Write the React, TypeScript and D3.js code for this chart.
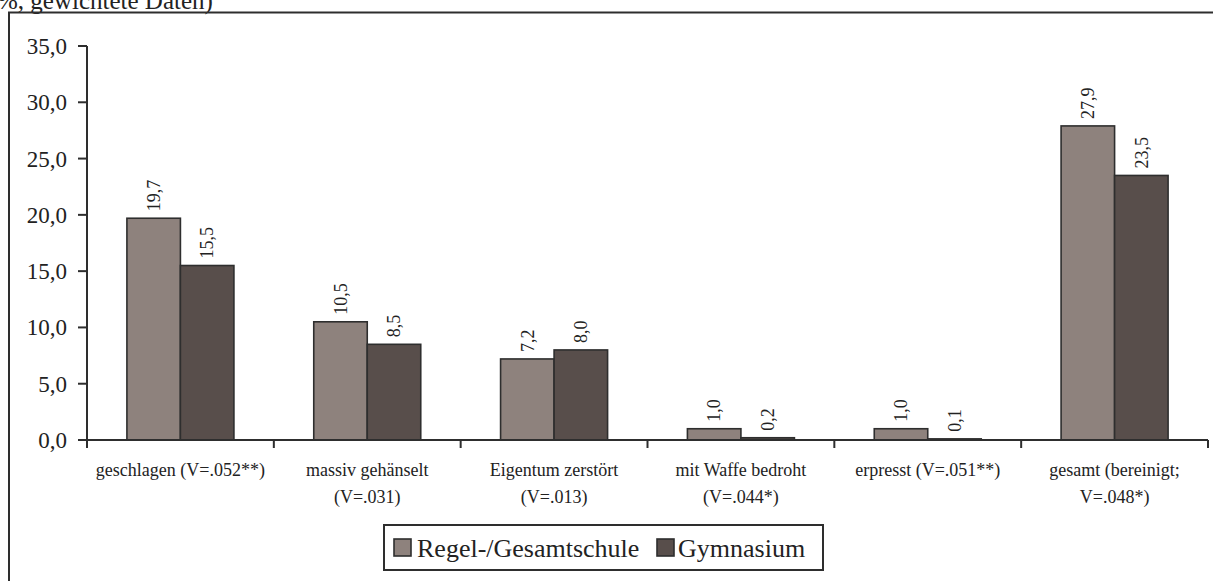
import React from "react";
import * as d3 from "d3";

const categories: string[][] = [
  ["geschlagen (V=.052**)"],
  ["massiv gehänselt", "(V=.031)"],
  ["Eigentum zerstört", "(V=.013)"],
  ["mit Waffe bedroht", "(V=.044*)"],
  ["erpresst (V=.051**)"],
  ["gesamt (bereinigt;", "V=.048*)"],
];
const seriesNames = ["Regel-/Gesamtschule", "Gymnasium"];
const regelValues = [19.7, 10.5, 7.2, 1.0, 1.0, 27.9];
const gymValues = [15.5, 8.5, 8.0, 0.2, 0.1, 23.5];
const yTicks = [0, 5, 10, 15, 20, 25, 30, 35];
const titleFragment = "%, gewichtete Daten)";

const W = 1213;
const H = 581;
const FONT = "Liberation Serif, Tinos, Times New Roman, DejaVu Serif, serif";
const colors = ["#8e827d", "#584e4b"];
const strokeCol = "#2e2e2e";
const textCol = "#222";

const fmt = (v: number) => d3.format(".1f")(v).replace(".", ",");

export default function App() {
  const plotLeft = 87;
  const plotRight = 1208;
  const y0 = 440;
  const yTop = 46;
  const y = d3.scaleLinear().domain([0, 35]).range([y0, yTop]);
  const idx = categories.map((_, i) => String(i));
  const x = d3.scaleBand<string>().domain(idx).range([plotLeft, plotRight]).padding(0);
  const bw = x.bandwidth();
  const barW = 53.5;
  const inner = d3
    .scaleBand<string>()
    .domain(seriesNames)
    .range([bw / 2 - barW, bw / 2 + barW])
    .padding(0);
  const series = [regelValues, gymValues];
  const ts = { fontFamily: FONT } as React.CSSProperties;

  return (
    <svg
      width={W}
      height={H}
      style={{ position: "absolute", left: 0, top: 0, display: "block", background: "#fff", fontFamily: FONT }}
    >
      <rect x={0} y={0} width={W} height={H} fill="#fff" />
      <text x={-3} y={9} fontSize={25} fill={textCol} style={ts}>
        {titleFragment}
      </text>
      <rect x={9} y={12.5} width={W + 10} height={H + 10} fill="none" stroke={strokeCol} strokeWidth={2} />

      <line x1={plotLeft} x2={plotLeft} y1={yTop} y2={y0} stroke={strokeCol} strokeWidth={2} />
      {yTicks.map((t) => (
        <g key={t}>
          <line x1={plotLeft - 9} x2={plotLeft} y1={y(t)} y2={y(t)} stroke={strokeCol} strokeWidth={2} />
          <text x={plotLeft - 20} y={y(t)} dy="0.35em" textAnchor="end" fontSize={23} fill={textCol} style={ts}>
            {fmt(t)}
          </text>
        </g>
      ))}

      {series.map((vals, s) =>
        vals.map((v, i) => {
          const bx = (x(String(i)) as number) + (inner(seriesNames[s]) as number);
          const top = y(v);
          return (
            <g key={`${s}-${i}`}>
              <rect
                x={bx}
                y={top}
                width={barW}
                height={y0 - top}
                fill={colors[s]}
                stroke={strokeCol}
                strokeWidth={1.6}
              />
              <text
                transform={`translate(${bx + barW / 2},${top - 7}) rotate(-90)`}
                dy="0.35em"
                textAnchor="start"
                fontSize={18}
                fill={textCol}
                style={ts}
              >
                {fmt(v)}
              </text>
            </g>
          );
        })
      )}

      <line x1={plotLeft} x2={plotRight} y1={y0} y2={y0} stroke={strokeCol} strokeWidth={2} />
      {[...idx.map((d) => x(d) as number), plotRight].map((tx, k) => (
        <line key={k} x1={tx} x2={tx} y1={y0} y2={y0 + 8} stroke={strokeCol} strokeWidth={2} />
      ))}
      {categories.map((lines, i) => (
        <text
          key={i}
          x={(x(String(i)) as number) + bw / 2}
          y={476}
          textAnchor="middle"
          fontSize={18}
          fill={textCol}
          style={ts}
        >
          {lines.map((ln, j) => (
            <tspan key={j} x={(x(String(i)) as number) + bw / 2} dy={j === 0 ? 0 : 27}>
              {ln}
            </tspan>
          ))}
        </text>
      ))}

      <rect x={384} y={525} width={439} height={45} fill="#fff" stroke={strokeCol} strokeWidth={2} />
      <rect x={394} y={539} width={17} height={17} fill={colors[0]} stroke={strokeCol} strokeWidth={1.6} />
      <text x={417} y={557} fontSize={26} fill={textCol} style={ts}>
        {seriesNames[0]}
      </text>
      <rect x={657} y={539} width={17} height={17} fill={colors[1]} stroke={strokeCol} strokeWidth={1.6} />
      <text x={678} y={557} fontSize={26} fill={textCol} style={ts}>
        {seriesNames[1]}
      </text>
    </svg>
  );
}
